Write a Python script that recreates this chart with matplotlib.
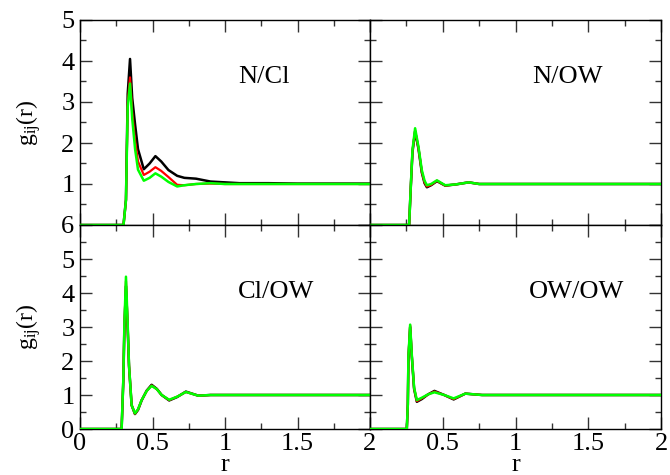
import matplotlib
matplotlib.use("Agg")
import matplotlib.pyplot as plt
from matplotlib.ticker import MultipleLocator, FuncFormatter

plt.rcParams['font.family'] = ['Liberation Serif', 'DejaVu Serif']
plt.rcParams['mathtext.fontset'] = 'custom'
plt.rcParams['mathtext.rm'] = 'Liberation Serif'
plt.rcParams['mathtext.it'] = 'Liberation Serif'

# ---------------- data ----------------
# N/Cl
ncl_r = [0, 0.30, 0.317, 0.329, 0.345, 0.36, 0.38, 0.40, 0.44, 0.48, 0.52, 0.56,
         0.61, 0.67, 0.72, 0.80, 0.90, 1.0, 1.1, 1.3, 1.5, 1.7, 2.0]
ncl_black = [0, 0, 0.62, 3.2, 4.05, 3.1, 2.45, 1.85, 1.36, 1.5, 1.68, 1.55,
             1.34, 1.2, 1.15, 1.13, 1.06, 1.04, 1.02, 1.02, 1.01, 1.01, 1.01]
ncl_red = [0, 0, 0.6, 2.95, 3.6, 2.75, 2.05, 1.55, 1.22, 1.3, 1.41, 1.32,
           1.17, 0.98, 0.97, 1.0, 1.01, 1.0, 1.0, 1.0, 1.0, 1.0, 1.0]
ncl_green = [0, 0, 0.6, 2.88, 3.45, 2.6, 1.85, 1.35, 1.08, 1.15, 1.26, 1.18,
             1.05, 0.94, 0.97, 1.0, 1.02, 1.0, 1.0, 1.0, 1.0, 1.0, 1.0]

# N/OW
now_r = [0, 0.269, 0.28, 0.292, 0.31, 0.333, 0.356, 0.375, 0.391, 0.42, 0.46,
         0.517, 0.59, 0.678, 0.75, 0.9, 1.2, 1.5, 2.0]
now_black = [0, 0, 0.9, 1.78, 2.28, 1.86, 1.28, 1.02, 0.92, 0.97, 1.07,
             0.96, 0.99, 1.04, 1.0, 1.0, 1.0, 1.0, 1.0]
now_red = [0, 0, 0.9, 1.8, 2.3, 1.88, 1.3, 1.04, 0.94, 0.98, 1.08,
           0.96, 0.99, 1.04, 1.0, 1.0, 1.0, 1.0, 1.0]
now_green = [0, 0, 0.92, 1.83, 2.36, 1.91, 1.34, 1.08, 0.97, 1.0, 1.09,
             0.97, 0.99, 1.04, 1.0, 1.0, 1.0, 1.0, 1.0]

# Cl/OW
clow_r = [0, 0.287, 0.299, 0.306, 0.317, 0.329, 0.338, 0.356, 0.379, 0.40, 0.425,
          0.46, 0.494, 0.53, 0.563, 0.615, 0.67, 0.73, 0.816, 0.9, 1.2, 1.5, 2.0]
clow_black = [0, 0, 1.45, 2.95, 4.2, 2.95, 1.85, 0.7, 0.44, 0.56, 0.84,
              1.13, 1.3, 1.18, 1.0, 0.84, 0.94, 1.1, 0.98, 1.0, 1.0, 1.0, 1.0]
clow_red = [0, 0, 1.47, 3.0, 4.35, 3.0, 1.87, 0.7, 0.45, 0.57, 0.85,
            1.12, 1.28, 1.17, 1.0, 0.85, 0.95, 1.09, 0.98, 1.0, 1.0, 1.0, 1.0]
clow_green = [0, 0, 1.49, 3.06, 4.48, 3.06, 1.88, 0.7, 0.46, 0.58, 0.85,
              1.12, 1.27, 1.17, 1.0, 0.86, 0.95, 1.09, 0.98, 1.0, 1.0, 1.0, 1.0]

# OW/OW
owow_r = [0, 0.253, 0.26, 0.264, 0.276, 0.287, 0.303, 0.322, 0.356, 0.40, 0.443,
          0.51, 0.575, 0.655, 0.77, 1.0, 1.5, 2.0]
owow_black = [0, 0, 0.72, 2.05, 3.0, 2.15, 1.18, 0.8, 0.88, 1.02, 1.12,
              1.0, 0.87, 1.04, 1.0, 1.0, 1.0, 1.0]
owow_red = [0, 0, 0.73, 2.1, 3.05, 2.18, 1.2, 0.82, 0.9, 1.02, 1.1,
            1.0, 0.88, 1.04, 1.0, 1.0, 1.0, 1.0]
owow_green = [0, 0, 0.74, 2.12, 3.07, 2.2, 1.22, 0.85, 0.92, 1.02, 1.08,
              1.0, 0.9, 1.04, 1.0, 1.0, 1.0, 1.0]

panel_names = ["N/Cl", "N/OW", "Cl/OW", "OW/OW"]

# ---------------- figure ----------------
W, H = 670, 475
fig = plt.figure(figsize=(W / 100, H / 100), dpi=100)

xl, xm, xr = 80 / W, 370 / W, 661 / W
yt, ym, yb = 1 - 20 / H, 1 - 225 / H, 1 - 429 / H

ax_tl = fig.add_axes([xl, ym, xm - xl, yt - ym])
ax_tr = fig.add_axes([xm, ym, xr - xm, yt - ym])
ax_bl = fig.add_axes([xl, yb, xm - xl, ym - yb])
ax_br = fig.add_axes([xm, yb, xr - xm, ym - yb])

panels = [
    (ax_tl, ncl_r, ncl_black, ncl_red, ncl_green, panel_names[0], (0.635, 0.72)),
    (ax_tr, now_r, now_black, now_red, now_green, panel_names[1], (0.678, 0.72)),
    (ax_bl, clow_r, clow_black, clow_red, clow_green, panel_names[2], (0.675, 0.67)),
    (ax_br, owow_r, owow_black, owow_red, owow_green, panel_names[3], (0.71, 0.67)),
]

for ax, r, gb, gr, gg, name, pos in panels:
    ax.plot(r, gb, color='black', lw=1.8, zorder=3)
    ax.plot(r, gr, color='#ff0000', lw=1.6, zorder=4)
    ax.plot(r, gg, color='#00ff00', lw=1.8, zorder=5)
    ax.text(pos[0], pos[1], name, transform=ax.transAxes, ha='center', va='center',
            fontsize=19)
    ax.set_xlim(0, 2)
    ax.xaxis.set_major_locator(MultipleLocator(0.5))
    ax.xaxis.set_minor_locator(MultipleLocator(0.25))
    ax.yaxis.set_major_locator(MultipleLocator(1))
    ax.yaxis.set_minor_locator(MultipleLocator(0.5))
    ax.tick_params(which='both', direction='in', top=True, right=True,
                   labelsize=19)
    ax.tick_params(axis='y', pad=4)
    ax.tick_params(axis='x', pad=3)
    ax.tick_params(which='major', length=8.5, width=1.0, color='#333333')
    ax.tick_params(which='minor', length=4.5, width=1.0, color='#333333')
    for s in ax.spines.values():
        s.set_linewidth(1.0)

ax_tl.set_ylim(0, 5)
ax_tr.set_ylim(0, 5)
ax_bl.set_ylim(0, 6)
ax_br.set_ylim(0, 6)

# top row: no x tick labels
ax_tl.tick_params(labelbottom=False)
ax_tr.tick_params(labelbottom=False)
# right column: no y tick labels
ax_tr.tick_params(labelleft=False)
ax_br.tick_params(labelleft=False)

fmt_nozero = FuncFormatter(lambda v, p: "" if abs(v) < 1e-9 else f"{v:g}")
ax_tl.yaxis.set_major_formatter(fmt_nozero)
ax_br.xaxis.set_major_formatter(FuncFormatter(lambda v, p: "" if abs(v) < 1e-9 else f"{v:g}"))
ax_bl.xaxis.set_major_formatter(FuncFormatter(lambda v, p: f"{v:g}"))

ax_bl.set_xlabel("r", fontsize=19, labelpad=-1)
ax_br.set_xlabel("r", fontsize=19, labelpad=-1)
ax_tl.set_ylabel(r"g$_{\mathrm{ij}}$(r)", fontsize=17, labelpad=13)
ax_bl.set_ylabel(r"g$_{\mathrm{ij}}$(r)", fontsize=17, labelpad=13)

fig.savefig("out.png", dpi=100)
